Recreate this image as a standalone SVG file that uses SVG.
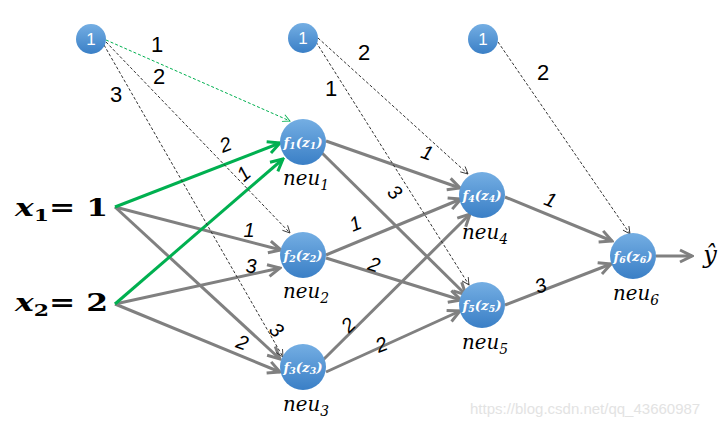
<svg xmlns="http://www.w3.org/2000/svg" width="727" height="427" viewBox="0 0 727 427">
<style>
.g{stroke:#808080;stroke-width:3;fill:none;marker-end:url(#ag)}
.gr{stroke:#00b050;stroke-width:3;fill:none;marker-end:url(#agr)}
.d{stroke:#333;stroke-width:1;stroke-dasharray:3 2;fill:none;marker-end:url(#ad)}
.dg{stroke:#00b050;stroke-width:1;stroke-dasharray:3 2;fill:none;marker-end:url(#adg)}
.n{fill:url(#blue)}
.fn{font-family:"DejaVu Serif",serif;font-style:italic;font-weight:bold;font-size:13px;fill:#fff;text-anchor:middle}
.nl{font-family:"DejaVu Serif",serif;font-style:italic;font-size:20px;fill:#000;text-anchor:middle}
.b{font-family:"Liberation Sans",sans-serif;font-size:17px;fill:#fff;text-anchor:middle}
.w{font-family:"Liberation Sans",sans-serif;font-size:22px;fill:#000;text-anchor:middle}
.wi{font-family:"Liberation Sans",sans-serif;font-style:italic;font-size:20px;fill:#000;text-anchor:middle}
.x{font-family:"DejaVu Serif",serif;font-weight:bold;font-size:25px;fill:#000}
.it{font-style:italic}
.sub{font-size:70%}
.yh{font-family:"DejaVu Serif",serif;font-style:italic;font-size:24px;fill:#000;text-anchor:middle}
</style>
<defs>
<linearGradient id="blue" x1="0" y1="0" x2="0" y2="1">
<stop offset="0" stop-color="#74aee3"/>
<stop offset="1" stop-color="#3a7fc6"/>
</linearGradient>
<marker id="ag" viewBox="0 0 16 16" refX="14" refY="8" markerWidth="16" markerHeight="16" markerUnits="userSpaceOnUse" orient="auto">
<path d="M2,2 L14,8 L2,14" stroke="#808080" stroke-width="3" fill="none"/>
</marker>
<marker id="agr" viewBox="0 0 16 16" refX="14" refY="8" markerWidth="16" markerHeight="16" markerUnits="userSpaceOnUse" orient="auto">
<path d="M2,2 L14,8 L2,14" stroke="#00b050" stroke-width="3" fill="none"/>
</marker>
<marker id="ad" viewBox="0 0 10 10" refX="9" refY="5" markerWidth="9" markerHeight="9" markerUnits="userSpaceOnUse" orient="auto">
<path d="M1,1 L9,5 L1,9" stroke="#333" stroke-width="1" fill="none"/>
</marker>
<marker id="adg" viewBox="0 0 10 10" refX="9" refY="5" markerWidth="9" markerHeight="9" markerUnits="userSpaceOnUse" orient="auto">
<path d="M1,1 L9,5 L1,9" stroke="#00b050" stroke-width="1" fill="none"/>
</marker>
</defs>
<g id="connectors">
<line class="g" x1="115" y1="207" x2="281" y2="250"/>
<line class="g" x1="115" y1="304" x2="280" y2="268"/>
<line class="g" x1="115" y1="207" x2="280" y2="359"/>
<line class="g" x1="115" y1="304" x2="280" y2="372"/>
<line class="gr" x1="115" y1="207" x2="280" y2="143"/>
<line class="gr" x1="115" y1="304" x2="283" y2="159"/>
<line class="g" x1="326" y1="141" x2="460" y2="188"/>
<line class="g" x1="321" y1="152" x2="466" y2="295"/>
<line class="g" x1="326" y1="255" x2="461" y2="199"/>
<line class="g" x1="326" y1="258" x2="461" y2="300"/>
<line class="g" x1="322" y1="361" x2="470" y2="214"/>
<line class="g" x1="326" y1="372" x2="460" y2="311"/>
<line class="g" x1="505" y1="197" x2="612" y2="241"/>
<line class="g" x1="505" y1="305" x2="611" y2="264"/>
<line class="g" x1="656" y1="256" x2="692" y2="256"/>
<line class="dg" x1="106" y1="40" x2="290" y2="121"/>
<line class="d" x1="106" y1="42" x2="290" y2="233"/>
<line class="d" x1="104" y1="45" x2="283" y2="357"/>
<line class="d" x1="318" y1="38" x2="468" y2="174"/>
<line class="d" x1="316" y1="42" x2="469" y2="285"/>
<line class="d" x1="498" y1="42" x2="630" y2="234"/>
<text class="w" x="157" y="52">1</text>
<text class="w" x="159" y="84">2</text>
<text class="w" x="116" y="102">3</text>
<text class="w" x="364" y="60">2</text>
<text class="w" x="331" y="96">1</text>
<text class="w" x="543" y="80">2</text>
<text class="wi" transform="translate(228,151) rotate(-21)">2</text>
<text class="wi" transform="translate(248,179) rotate(-40)">1</text>
<text class="wi" x="249" y="237">1</text>
<text class="wi" x="251" y="273">3</text>
<text class="wi" transform="translate(272,335) rotate(42)">3</text>
<text class="wi" transform="translate(240,349) rotate(20)">2</text>
<text class="wi" transform="translate(425,159) rotate(19)">1</text>
<text class="wi" transform="translate(390,197) rotate(44)">3</text>
<text class="wi" transform="translate(358,230) rotate(-22)">1</text>
<text class="wi" transform="translate(372,271) rotate(18)">2</text>
<text class="wi" transform="translate(353,330) rotate(-44)">2</text>
<text class="wi" transform="translate(384,351) rotate(-22)">2</text>
<text class="wi" transform="translate(548,206) rotate(22)">1</text>
<text class="wi" transform="translate(543,292) rotate(-20)">3</text>
</g>
<g id="b1"><circle class="n" cx="91" cy="39" r="15"/><text class="b" x="91" y="45">1</text></g>
<g id="b2"><circle class="n" cx="303" cy="38" r="15"/><text class="b" x="303" y="44">1</text></g>
<g id="b3"><circle class="n" cx="483" cy="39" r="15"/><text class="b" x="483" y="45">1</text></g>
<g id="x1"><text class="x" x="15" y="216" textLength="93" lengthAdjust="spacingAndGlyphs"><tspan class="it">x</tspan><tspan class="sub" dy="5">1</tspan><tspan dy="-5">= 1</tspan></text></g>
<g id="x2"><text class="x" x="15" y="311" textLength="93" lengthAdjust="spacingAndGlyphs"><tspan class="it">x</tspan><tspan class="sub" dy="5">2</tspan><tspan dy="-5">= 2</tspan></text></g>
<g id="neu1"><circle class="n" cx="303" cy="142" r="23"/><text class="fn" x="303" y="147" textLength="39" lengthAdjust="spacingAndGlyphs">f<tspan class="sub" dy="2">1</tspan><tspan dy="-2">(z</tspan><tspan class="sub" dy="2">1</tspan><tspan dy="-2">)</tspan></text><text class="nl" x="306" y="185" textLength="46" lengthAdjust="spacingAndGlyphs">neu<tspan class="sub" dy="5">1</tspan></text></g>
<g id="neu2"><circle class="n" cx="303" cy="255" r="23"/><text class="fn" x="303" y="260" textLength="39" lengthAdjust="spacingAndGlyphs">f<tspan class="sub" dy="2">2</tspan><tspan dy="-2">(z</tspan><tspan class="sub" dy="2">2</tspan><tspan dy="-2">)</tspan></text><text class="nl" x="306" y="298" textLength="46" lengthAdjust="spacingAndGlyphs">neu<tspan class="sub" dy="5">2</tspan></text></g>
<g id="neu3"><circle class="n" cx="303" cy="367" r="23"/><text class="fn" x="303" y="372" textLength="39" lengthAdjust="spacingAndGlyphs">f<tspan class="sub" dy="2">3</tspan><tspan dy="-2">(z</tspan><tspan class="sub" dy="2">3</tspan><tspan dy="-2">)</tspan></text><text class="nl" x="306" y="411" textLength="46" lengthAdjust="spacingAndGlyphs">neu<tspan class="sub" dy="5">3</tspan></text></g>
<g id="neu4"><circle class="n" cx="482" cy="195" r="23"/><text class="fn" x="482" y="200" textLength="39" lengthAdjust="spacingAndGlyphs">f<tspan class="sub" dy="2">4</tspan><tspan dy="-2">(z</tspan><tspan class="sub" dy="2">4</tspan><tspan dy="-2">)</tspan></text><text class="nl" x="485" y="239" textLength="46" lengthAdjust="spacingAndGlyphs">neu<tspan class="sub" dy="5">4</tspan></text></g>
<g id="neu5"><circle class="n" cx="482" cy="305" r="23"/><text class="fn" x="482" y="310" textLength="39" lengthAdjust="spacingAndGlyphs">f<tspan class="sub" dy="2">5</tspan><tspan dy="-2">(z</tspan><tspan class="sub" dy="2">5</tspan><tspan dy="-2">)</tspan></text><text class="nl" x="485" y="349" textLength="46" lengthAdjust="spacingAndGlyphs">neu<tspan class="sub" dy="5">5</tspan></text></g>
<g id="neu6"><circle class="n" cx="633" cy="256" r="23"/><text class="fn" x="633" y="261" textLength="39" lengthAdjust="spacingAndGlyphs">f<tspan class="sub" dy="2">6</tspan><tspan dy="-2">(z</tspan><tspan class="sub" dy="2">6</tspan><tspan dy="-2">)</tspan></text><text class="nl" x="636" y="300" textLength="46" lengthAdjust="spacingAndGlyphs">neu<tspan class="sub" dy="5">6</tspan></text></g>
<g id="yhat"><text class="yh" x="710" y="263">ŷ</text></g>
<text x="470" y="414" font-family="Liberation Sans,sans-serif" font-size="15" fill="#e3e3e3">https://blog.csdn.net/qq_43660987</text>
</svg>
